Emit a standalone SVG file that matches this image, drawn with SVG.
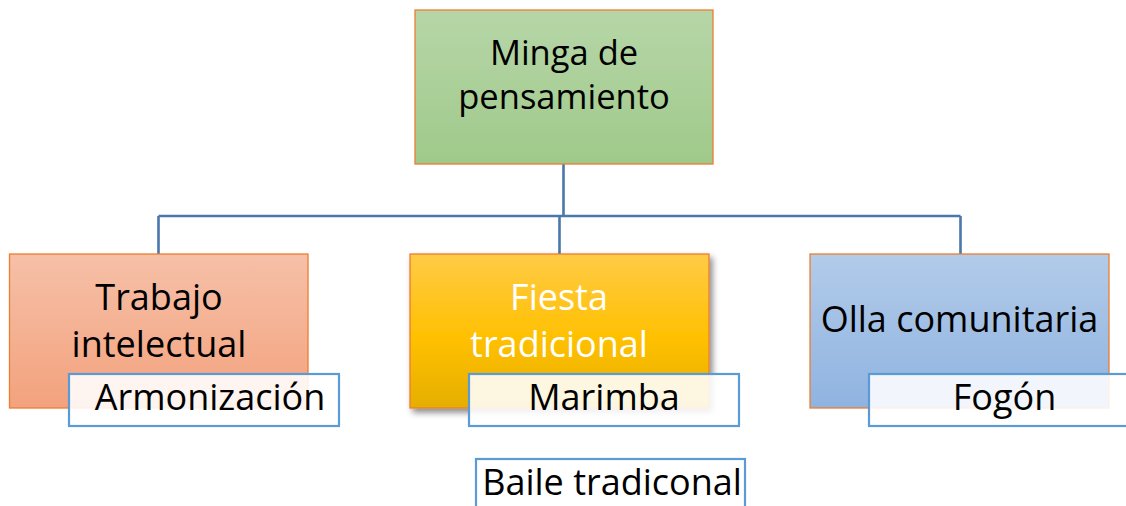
<svg xmlns="http://www.w3.org/2000/svg" width="1126" height="506" viewBox="0 0 1126 506">
<style>
.box{stroke:#ed7d31;stroke-width:1.3}
.lbl{fill:#ffffff;fill-opacity:0.88;stroke:#5b9bd5;stroke-width:2.2}
.t{font-family:"Open Sans","Liberation Sans",sans-serif;font-size:36px;fill:#000;text-anchor:middle}
.s{font-size:34.5px}
.w{fill:#ffffff}
.conn{fill:none;stroke:#4a77ac;stroke-width:2.6}
</style>
<defs>
<linearGradient id="gG" x1="0" y1="0" x2="0" y2="1"><stop offset="0" stop-color="#b7d6a8"/><stop offset="1" stop-color="#9fc98a"/></linearGradient>
<linearGradient id="gO" x1="0" y1="0" x2="0" y2="1"><stop offset="0" stop-color="#f6c0a8"/><stop offset="1" stop-color="#f3a27d"/></linearGradient>
<linearGradient id="gY" x1="0" y1="0" x2="0" y2="1"><stop offset="0" stop-color="#ffcb47"/><stop offset="0.55" stop-color="#ffc000"/><stop offset="1" stop-color="#e5ae00"/></linearGradient>
<linearGradient id="gB" x1="0" y1="0" x2="0" y2="1"><stop offset="0" stop-color="#b2cbe9"/><stop offset="1" stop-color="#8fb3e0"/></linearGradient>
<filter id="sh" x="-10%" y="-10%" width="125%" height="130%"><feDropShadow dx="3" dy="4" stdDeviation="3" flood-color="#000" flood-opacity="0.45"/></filter>
</defs>
<g id="connectors">
<path class="conn" d="M563.5 164 V216 M158.5 216 H960.5 M158.5 216 V254 M559.5 216 V254 M960.5 216 V254"/>
</g>
<g id="n-minga">
<rect class="box" x="415" y="10" width="298" height="154" fill="url(#gG)"/>
<text class="t s" x="564" y="65">Minga de</text>
<text class="t s" x="564" y="109">pensamiento</text>
</g>
<g id="n-trabajo">
<rect class="box" x="9.5" y="254" width="298.5" height="154" fill="url(#gO)"/>
<text class="t" x="159" y="310">Trabajo</text>
<text class="t" x="159" y="357">intelectual</text>
</g>
<g id="n-fiesta">
<rect class="box" x="410" y="254" width="299" height="154" fill="url(#gY)" filter="url(#sh)"/>
<text class="t w" x="559" y="310">Fiesta</text>
<text class="t w" x="559" y="357">tradicional</text>
</g>
<g id="n-olla">
<rect class="box" x="810" y="254" width="299" height="154" fill="url(#gB)"/>
<text class="t" x="959.5" y="332">Olla comunitaria</text>
</g>
<g id="n-armonizacion">
<rect class="lbl" x="69" y="374" width="270" height="52"/>
<text class="t" x="210" y="410">Armonización</text>
</g>
<g id="n-marimba">
<rect class="lbl" x="469" y="374" width="270" height="52"/>
<text class="t" x="604" y="410">Marimba</text>
</g>
<g id="n-fogon">
<rect class="lbl" x="869" y="374" width="272" height="52"/>
<text class="t" x="1004.5" y="410">Fogón</text>
</g>
<g id="n-baile">
<rect class="lbl" x="476" y="459" width="269" height="60"/>
<text class="t" x="612" y="495" font-size="35">Baile tradiconal</text>
</g>
</svg>
